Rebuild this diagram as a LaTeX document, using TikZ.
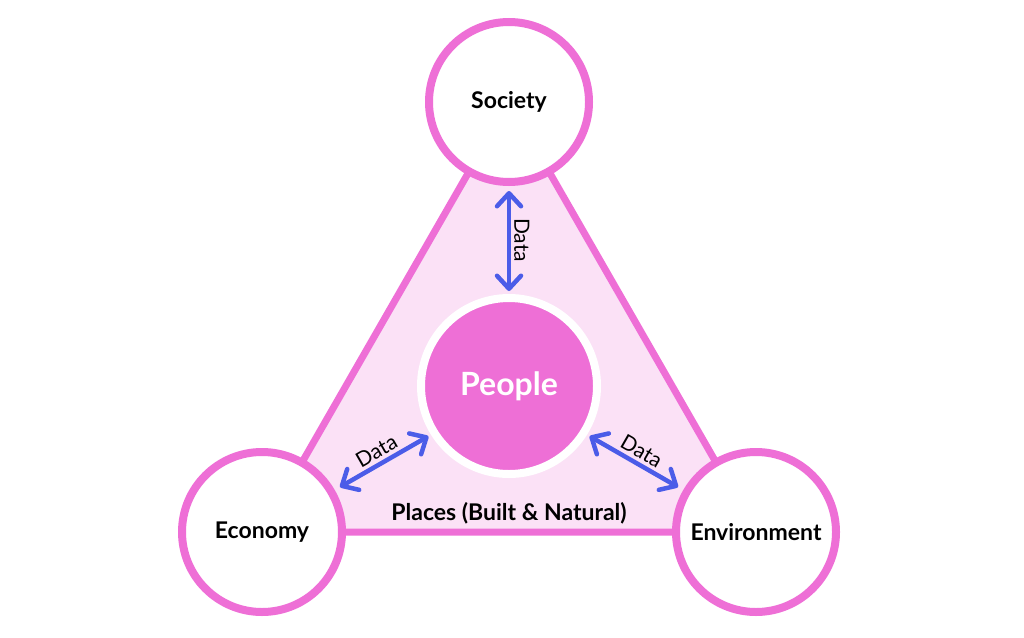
\documentclass[tikz,border=0pt]{standalone}
\usepackage{fontspec}
\setmainfont{Lato}
\usetikzlibrary{arrows.meta}

\definecolor{orchid}{HTML}{EE6FD6}
\definecolor{blush}{HTML}{FBE1F6}
\definecolor{linkblue}{HTML}{4B5CE8}

\tikzset{
  pillar/.style={circle, draw=orchid, fill=white, line width=8pt,
    minimum size=160pt, inner sep=0pt, font=\bfseries\fontsize{23}{26}\selectfont},
  link/.style={draw=linkblue, line width=4.5pt,
    {Straight Barb[length=13pt,width=24pt,round]}-{Straight Barb[length=13pt,width=24pt,round]}},
  datalabel/.style={midway, sloped, above, inner sep=3pt,
    font=\fontsize{21}{24}\selectfont}
}

\begin{document}
\begin{tikzpicture}[x=1pt, y=-1pt]
    \useasboundingbox (0,0) rectangle (1024,637);

    \coordinate (S) at (509,102);
    \coordinate (E) at (262,532);
    \coordinate (V) at (756,532);

    % places triangle
    \draw[fill=blush, draw=orchid, line width=7pt, line join=round]
        (S) -- (E) -- (V) -- cycle;

    \node[pillar] (soc) at (S) {Society};
    \node[pillar] (eco) at (E) {Economy};
    \node[pillar] (env) at (V) {Environment};

    \node[circle, fill=orchid, draw=white, line width=8pt, minimum size=176pt,
        inner sep=0pt, text=white, font=\bfseries\fontsize{32}{36}\selectfont]
        (ppl) at (509,386) {People};

    \node[font=\bfseries\fontsize{23}{26}\selectfont] (places) at (509,513)
        {Places (Built \& Natural)};

    \draw[link, shorten <=5pt, shorten >=3pt] (soc.south) -- (ppl.north)
        node[datalabel] {Data};
    \draw[link, shorten <=6pt, shorten >=3pt] (eco.30) -- (ppl.212)
        node[datalabel] {Data};
    \draw[link, shorten <=3pt, shorten >=6pt] (ppl.328) -- (env.150)
        node[datalabel] {Data};
\end{tikzpicture}
\end{document}
